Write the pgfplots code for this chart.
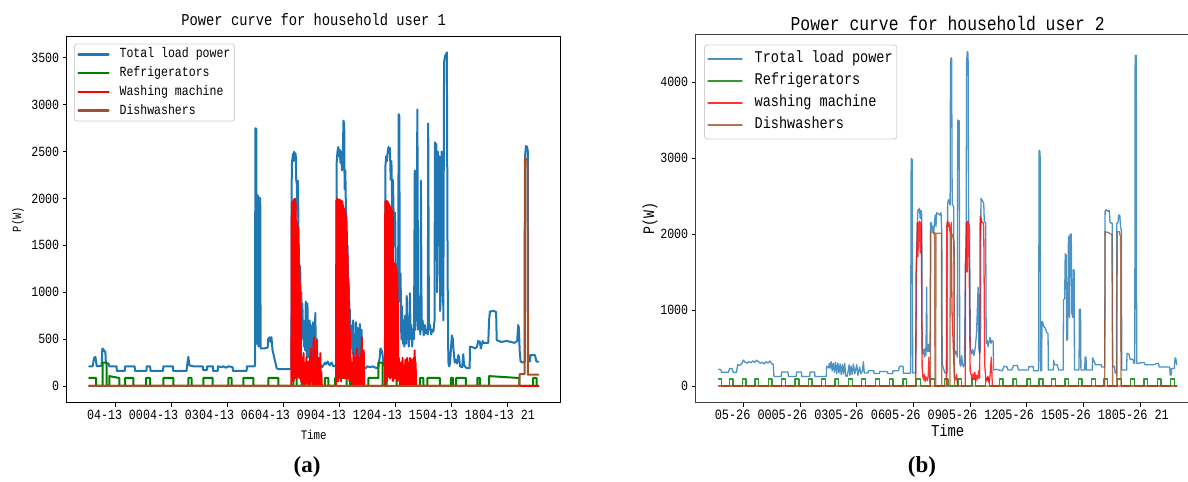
\documentclass[border=0pt]{standalone}
\usepackage{fontspec}
\newfontfamily\cf{Liberation Mono}[FakeStretch=0.83]
\newfontfamily\capfont{Liberation Serif}
\usepackage{pgfplots}
\pgfplotsset{compat=1.18}
\definecolor{tabblue}{HTML}{1F77B4}
\definecolor{mgreen}{HTML}{008000}
\definecolor{mred}{HTML}{FF0000}
\definecolor{sienna}{HTML}{A0522D}
\pgfplotsset{
  base/.style={
    scale only axis, anchor=south west,
    tick align=outside, tick pos=left, major tick length=4bp,
    axis line style={line width=1bp},
    every tick/.style={black, line width=0.9bp},
    /pgf/number format/assume math mode=true,
    /pgf/number format/1000 sep={},
    scaled y ticks=false,
    xtick={0,3,...,21},
    legend cell align=left,
    every axis plot/.append style={line join=round, line cap=round, mark=none},
  }
}
\begin{document}
\begin{tikzpicture}
\path[use as bounding box] (0bp,0bp) rectangle (1188bp,482bp);
% ---------------- (a) ----------------
\begin{axis}[base,
  at={(66.7bp,79.4bp)}, width=494bp, height=366bp,
  xmin=-2.59, xmax=23.88, ymin=-177.5, ymax=3727.5,
  ytick={0,500,...,3500},
  xticklabels={04-13 00,04-13 03,04-13 06,04-13 09,04-13 12,04-13 15,04-13 18,04-13 21},
  ticklabel style={font=\cf\fontsize{14bp}{16bp}\selectfont},
  title={Power curve for household user 1},
  title style={at={(0.5,1.0464)}, anchor=center, yshift=-6pt, font=\cf\fontsize{16.6bp}{18bp}\selectfont},
  xlabel={Time},
  xlabel style={at={(0.5,-0.0874)}, anchor=center, font=\cf\fontsize{13bp}{15bp}\selectfont},
  ylabel={P(W)},
  ylabel style={at={(-0.0986,0.5)}, anchor=center, font=\cf\fontsize{12.5bp}{14bp}\selectfont},
  legend style={at={(0.0148,0.981)}, anchor=north west,
    draw=black!18, line width=0.8bp, rounded corners=2.5bp, fill=white,
    font=\cf\fontsize{13.9bp}{16bp}\selectfont,
    inner xsep=3bp, inner ysep=4bp, row sep=5.7bp,
    nodes={inner xsep=1bp, inner ysep=0bp, text height=10bp, text depth=3bp},
    /tikz/every odd column/.append style={column sep=9bp}},
  legend image code/.code={\draw[#1, line width=2.2bp] (0bp,0bp) -- (30bp,0bp);},
]
\addplot[tabblue, line width=2bp] coordinates {
(-1.39,210) (-1.20,210) (-1.12,300) (-1.05,310) (-0.98,210) (-0.72,215) (-0.68,400) (-0.62,390) (-0.58,370) (-0.52,370) (-0.49,240) (-0.35,240) (-0.30,210) (0.08,210) (0.10,160) (0.52,160) (0.54,210) (1.05,210) (1.07,160) (1.68,160) (1.70,210) (1.88,210) (1.90,160) (2.57,160) (2.59,210) (3.10,210) (3.12,160) (3.83,160) (3.88,250) (3.93,310) (3.98,220) (4.20,210) (4.70,210) (4.72,170) (4.92,170) (4.94,210) (5.24,210) (5.26,160) (5.50,160) (5.52,210) (5.70,200) (5.80,210) (5.95,195) (6.10,210) (6.30,200) (6.32,160) (7.05,160) (7.07,210) (7.48,210)
(7.50,230) (7.52,2750) (7.57,2740) (7.59,450) (7.62,2040) (7.66,2020) (7.68,420) (7.72,2010) (7.78,2000) (7.80,400) (8.00,400) (8.18,410) (8.20,500) (8.28,520) (8.32,470) (8.38,520) (8.44,380) (8.50,330) (8.58,260) (8.66,190) (8.75,180) (9.45,180)
(9.47,2350) (9.50,2420) (9.54,2480) (9.57,2400) (9.60,2500) (9.64,2430) (9.68,2480) (9.71,2200) (9.74,2150) (9.77,1800) (9.80,2190) (9.83,1700) (9.86,1300) (9.89,1100) (9.92,1280) (9.95,800) (9.98,1000) (10.01,600) (10.04,880) (10.07,500) (10.10,700) (10.13,420) (10.16,600) (10.19,380) (10.22,900) (10.25,500) (10.28,300) (10.31,880) (10.34,450) (10.37,600) (10.40,300) (10.43,700) (10.46,420) (10.49,650) (10.52,350) (10.55,500) (10.58,300) (10.61,680) (10.64,380) (10.67,600) (10.70,250) (10.73,780) (10.76,400) (10.79,250) (10.82,500) (10.85,240) (10.90,250) (10.95,220)
(11.00,230) (11.10,200) (11.25,250) (11.30,230) (11.40,260) (11.50,220) (11.60,250) (11.70,210) (11.86,220)
(11.88,2400) (11.92,2500) (11.96,2550) (12.00,2450) (12.04,2520) (12.08,2380) (12.12,2500) (12.16,2300) (12.20,2420) (12.24,2830) (12.28,2800) (12.30,2100) (12.34,2300) (12.37,1900) (12.40,1800) (12.43,1300) (12.46,1500) (12.49,900) (12.52,1100) (12.55,700) (12.58,820) (12.61,500) (12.64,650) (12.67,400) (12.70,620) (12.73,350) (12.76,700) (12.79,450) (12.82,300) (12.85,550) (12.88,300) (12.91,680) (12.94,400) (12.97,250) (13.00,620) (13.03,300) (13.06,500) (13.09,230) (13.12,660) (13.15,350) (13.18,250) (13.21,600) (13.24,280) (13.30,200)
(13.45,190) (13.50,210) (13.70,200) (13.80,210) (14.00,190) (14.10,200) (14.18,300) (14.22,400) (14.28,380) (14.32,350) (14.40,220) (14.47,230)
(14.49,2350) (14.53,2450) (14.57,2400) (14.61,2500) (14.65,2550) (14.69,2480) (14.73,2540) (14.77,2200) (14.81,2400) (14.85,1900) (14.89,2200) (14.93,1800) (14.97,1500) (15.01,1850) (15.05,1000) (15.09,1300) (15.13,600) (15.17,1200) (15.20,2900) (15.23,2880) (15.26,900) (15.30,1200) (15.34,500) (15.38,850) (15.42,450) (15.46,700) (15.50,420) (15.55,750) (15.60,450) (15.63,960) (15.66,500) (15.70,700) (15.74,420) (15.80,990) (15.84,500) (15.88,650) (15.92,420) (15.96,600) (16.02,500) (16.06,2300) (16.09,600) (16.14,800) (16.20,2950) (16.24,600) (16.30,750) (16.36,550) (16.39,2190) (16.43,600) (16.48,700) (16.54,540) (16.60,650) (16.66,560) (16.72,600) (16.76,550) (16.78,2800) (16.82,600) (16.88,650) (16.94,550) (17.00,600) (17.06,580) (17.12,700) (17.14,2600) (17.18,2550) (17.22,2580) (17.26,1000) (17.30,2500) (17.34,1500) (17.38,2450) (17.42,800) (17.46,1000) (17.50,2500) (17.55,2480) (17.59,700) (17.63,3450) (17.68,3520) (17.74,3540) (17.78,3560) (17.82,1200) (17.86,250)
(17.90,210) (17.95,230) (18.00,400) (18.05,540) (18.10,500) (18.14,380) (18.20,250) (18.26,280) (18.32,240) (18.40,330) (18.44,300) (18.48,210) (18.60,200) (18.66,340) (18.70,220) (18.84,190) (19.00,190) (19.02,420) (19.20,410) (19.30,400) (19.40,420) (19.46,480) (19.55,470) (19.60,400) (19.70,480) (19.73,460) (20.00,460) (20.04,700) (20.09,795) (20.30,800) (20.42,790) (20.45,490) (20.55,480) (20.70,470) (21.00,480) (21.20,470) (21.40,460) (21.55,480) (21.60,650) (21.64,620) (21.68,380) (21.73,260) (21.85,250) (21.96,260) (21.97,2450) (22.02,2560) (22.08,2550) (22.12,2500) (22.14,270) (22.23,260) (22.26,330) (22.50,330) (22.58,260) (22.68,260)
};
\addplot[mgreen, line width=2bp] coordinates {
(-1.39,85) (-1.02,85) (-1.02,0) (-0.66,0) (-0.66,250) (-0.45,250) (-0.45,0) (-0.31,0) (-0.31,105) (0.23,85) (0.23,0) (0.54,0) (0.54,85) (0.98,85) (0.98,0) (1.66,0) (1.66,85) (1.88,85) (1.88,0) (2.59,0) (2.59,85) (3.12,85) (3.12,0) (3.93,0) (3.93,85) (4.11,85) (4.11,0) (4.73,0) (4.73,85) (5.23,85) (5.23,0) (6.07,0) (6.07,85) (6.25,85) (6.25,0) (6.87,0) (6.87,85) (7.41,85) (7.41,0) (8.21,0) (8.21,85) (8.75,85) (8.75,0) (9.55,0) (9.55,85) (9.73,85) (9.73,0) (10.00,0) (10.00,85) (10.18,85) (10.18,0) (10.45,0) (10.45,85) (10.62,85) (10.62,0) (11.25,0) (11.25,85) (11.43,85) (11.43,0) (11.79,0) (11.79,85) (12.41,85) (12.41,0) (12.59,0) (12.59,85) (13.13,85) (13.13,0) (13.57,0) (13.57,85) (14.11,85) (14.11,250) (14.34,250) (14.34,0) (14.55,0) (14.55,105) (15.09,85) (15.09,0) (15.27,0) (15.27,85) (15.48,85) (15.48,0) (16.34,0) (16.34,85) (16.52,85) (16.52,0) (16.73,0) (16.73,85) (17.41,85) (17.41,0) (18.00,0) (18.00,85) (18.12,85) (18.12,0) (18.27,0) (18.27,85) (18.80,85) (18.80,0) (19.41,0) (19.41,85) (19.55,85) (19.55,0) (20.05,0) (20.05,105) (21.66,85) (21.66,0) (22.40,0) (22.40,85) (22.59,85) (22.59,0) (22.68,0)
};
\addplot[mred, line width=2bp] coordinates {
(-1.39,0) (9.45,0) (9.47,1950) (9.49,100) (9.51,1970) (9.53,200) (9.55,1960) (9.57,50) (9.59,1990) (9.61,150) (9.63,2000) (9.65,100) (9.67,1950) (9.69,200) (9.71,1780) (9.73,80) (9.75,1750) (9.77,150) (9.79,1700) (9.81,100) (9.83,1500) (9.85,200) (9.87,1300) (9.89,80) (9.91,1100) (9.93,150) (9.95,850) (9.97,50)
(10.00,300) (10.025,60) (10.05,220) (10.075,20) (10.10,350) (10.125,100) (10.15,250) (10.175,0) (10.20,180) (10.225,60) (10.25,300) (10.275,30) (10.30,200) (10.325,0) (10.35,260) (10.375,80) (10.40,150) (10.425,0) (10.45,320) (10.475,50) (10.50,400) (10.525,100) (10.55,250) (10.575,0) (10.60,300) (10.625,60) (10.65,520) (10.675,40) (10.70,350) (10.725,0) (10.75,200) (10.775,30) (10.80,480) (10.825,0) (10.85,250) (10.875,0) (10.90,300) (10.925,50) (10.95,200) (10.975,0) (11.00,350) (11.025,0) (11.05,150) (11.08,0) (11.84,0)
(11.86,1980) (11.88,100) (11.90,2000) (11.92,150) (11.94,1990) (11.96,50) (11.98,1970) (12.00,200) (12.02,1990) (12.04,100) (12.06,1960) (12.08,150) (12.10,1980) (12.12,50) (12.14,1950) (12.16,200) (12.18,1970) (12.20,100) (12.22,1930) (12.24,150) (12.26,1900) (12.28,80) (12.30,1880) (12.32,200) (12.34,1850) (12.36,100) (12.38,1800) (12.40,150) (12.42,1650) (12.44,80) (12.46,1400) (12.48,200) (12.50,1150) (12.52,100) (12.54,900) (12.56,50) (12.58,600) (12.60,150)
(12.625,300) (12.65,50) (12.675,250) (12.70,0) (12.725,200) (12.75,80) (12.775,350) (12.80,0) (12.825,180) (12.85,60) (12.875,300) (12.90,0) (12.925,220) (12.95,100) (12.975,400) (13.00,20) (13.025,250) (13.05,0) (13.075,300) (13.10,80) (13.125,200) (13.15,0) (13.175,350) (13.20,50) (13.225,520) (13.25,0) (13.275,250) (13.30,30) (13.325,380) (13.35,0) (13.39,0) (14.44,0)
(14.46,0) (14.48,1970) (14.50,100) (14.52,1980) (14.54,150) (14.56,1960) (14.58,50) (14.60,1970) (14.62,200) (14.64,1950) (14.66,100) (14.68,1940) (14.70,150) (14.72,1920) (14.74,80) (14.76,1900) (14.78,200) (14.80,1900) (14.82,100) (14.84,1880) (14.86,150) (14.88,1850) (14.90,50) (14.92,1300) (14.94,150) (14.96,1310) (14.98,80) (15.00,1300) (15.02,200) (15.04,1280) (15.06,100) (15.08,1250) (15.10,50) (15.12,1200) (15.14,150) (15.16,900) (15.18,80)
(15.205,300) (15.23,50) (15.255,200) (15.28,0) (15.305,250) (15.33,80) (15.355,180) (15.38,0) (15.405,300) (15.43,60) (15.455,220) (15.48,0) (15.505,150) (15.53,30) (15.555,280) (15.58,0) (15.605,200) (15.63,100) (15.655,300) (15.68,0) (15.705,180) (15.73,50) (15.755,250) (15.78,0) (15.805,300) (15.83,80) (15.855,200) (15.88,0) (15.905,280) (15.93,30) (15.955,220) (15.98,0) (16.005,300) (16.03,50) (16.055,380) (16.08,0) (16.105,250) (16.13,0) (16.16,0) (22.68,0)
};
\addplot[sienna, line width=2bp] coordinates {
(-1.39,0) (21.66,0) (21.68,125) (21.94,125) (21.96,2420) (22.10,2420) (22.12,120) (22.68,120)
};
\legend{Total load power, Refrigerators, Washing machine, Dishwashers}
\end{axis}
% ---------------- (b) ----------------
\begin{axis}[base,
  at={(695.7bp,79.3bp)}, width=503.9bp, height=367.8bp,
  xmin=-2.52, xmax=24.14, ymin=-220, ymax=4620,
  axis line style={line width=1.1bp, black!75},
  ytick={0,1000,...,4000},
  xticklabels={05-26 00,05-26 03,05-26 06,05-26 09,05-26 12,05-26 15,05-26 18,05-26 21},
  xticklabel style={font=\cf\fontsize{14.3bp}{16bp}\selectfont},
  yticklabel style={font=\cf\fontsize{14bp}{16bp}\selectfont},
  title={Power curve for household user 2},
  title style={at={(0.5,1.031)}, anchor=center, yshift=-6pt, font=\cf\fontsize{19.7bp}{21bp}\selectfont},
  xlabel={Time},
  xlabel style={at={(0.5,-0.077)}, anchor=center, font=\cf\fontsize{16.7bp}{18bp}\selectfont},
  ylabel={P(W)},
  ylabel style={at={(-0.0907,0.5)}, anchor=center, font=\cf\fontsize{16bp}{18bp}\selectfont},
  legend style={at={(0.0165,0.9736)}, anchor=north west,
    draw=black!18, line width=0.8bp, rounded corners=2.5bp, fill=white,
    font=\cf\fontsize{16.3bp}{18bp}\selectfont,
    inner xsep=3bp, inner ysep=6.5bp, row sep=7bp,
    nodes={inner xsep=1bp, inner ysep=0bp, text height=11bp, text depth=4bp},
    /tikz/every odd column/.append style={column sep=11bp}},
  legend image code/.code={\draw[#1] (0bp,0bp) -- (34bp,0bp);},
]
\addplot[tabblue, line width=1.3bp, draw opacity=0.8] coordinates {
(-1.31,220) (-1.20,215) (-1.14,180) (-0.80,180) (-0.72,230) (-0.60,230) (-0.53,180) (-0.36,180) (-0.30,280) (-0.20,270) (-0.10,290) (0.00,340) (0.10,310) (0.20,300) (0.30,320) (0.40,305) (0.50,330) (0.60,310) (0.70,340) (0.80,320) (0.90,300) (1.00,310) (1.10,290) (1.20,320) (1.30,300) (1.40,330) (1.50,290) (1.58,290) (1.62,125) (2.00,125) (2.03,185) (2.36,185) (2.38,125) (2.80,125) (2.82,185) (3.07,185) (3.09,125) (3.51,125) (3.53,185) (3.77,185) (3.79,125) (4.39,125) (4.41,260) (4.50,240) (4.56,300) (4.60,230) (4.65,320) (4.70,200) (4.76,300) (4.82,180) (4.88,310) (4.94,160) (5.00,300) (5.06,170) (5.12,290) (5.18,150) (5.24,280) (5.30,160) (5.36,300) (5.42,130)
(5.50,130) (5.60,280) (5.64,140) (5.70,260) (5.76,150) (5.82,290) (5.90,160) (6.00,280) (6.06,140) (6.15,250) (6.22,160) (6.30,200) (6.35,320) (6.40,170) (6.60,170) (6.62,200) (6.90,200) (6.92,165) (7.20,165) (7.22,190) (7.60,190) (7.65,165) (7.90,165) (7.92,200) (8.20,200) (8.27,260) (8.45,260) (8.47,165) (8.85,170) (8.88,2990) (8.93,2980) (8.96,170) (9.12,170)
(9.16,1600) (9.20,2100) (9.24,2320) (9.28,2300) (9.32,2340) (9.36,2200) (9.40,2310) (9.44,2250) (9.46,500) (9.50,420) (9.54,480) (9.58,380) (9.62,500) (9.66,400) (9.70,1300) (9.72,500) (9.76,450) (9.80,550) (9.84,450) (9.88,520) (9.91,2150) (9.95,2150) (9.99,2050) (10.03,2100) (10.07,2000) (10.11,2150) (10.15,2250) (10.19,2100) (10.23,2280) (10.30,2270) (10.38,2250) (10.46,2280) (10.50,2000) (10.52,300) (10.60,220) (10.67,170) (10.78,170)
(10.81,2400) (10.85,2450) (10.90,2420) (10.94,2380) (10.96,4250) (10.99,4320) (11.02,4300) (11.05,2400) (11.09,2380) (11.13,2350) (11.16,500) (11.22,420) (11.28,450) (11.32,380) (11.34,3500) (11.38,3480) (11.42,3490) (11.45,300) (11.50,260) (11.55,400) (11.60,280) (11.65,250) (11.70,300) (11.75,1650) (11.79,1700) (11.81,4250) (11.85,4400) (11.89,4380) (11.92,2150) (11.97,2100) (12.01,500) (12.08,420) (12.14,480) (12.20,400) (12.27,500) (12.34,700) (12.42,1300) (12.46,500) (12.50,420) (12.55,480) (12.57,2470) (12.62,2450) (12.67,2430) (12.72,2400) (12.75,2150) (12.82,2150) (12.85,560) (12.90,600) (12.95,520) (13.00,580) (13.05,640) (13.10,560) (13.15,600) (13.22,580) (13.24,210)
(13.40,220) (13.50,210) (13.70,200) (13.80,260) (13.95,250) (14.00,210) (14.20,210) (14.30,270) (14.50,270) (14.55,210) (14.90,210) (15.08,210) (15.10,255) (15.34,255) (15.36,200) (15.62,200) (15.65,3100) (15.70,3080) (15.73,200) (15.78,200) (15.80,850) (15.85,830) (15.90,780) (15.98,760) (16.05,700) (16.12,690) (16.14,210) (16.40,210) (16.42,340) (16.46,280) (16.60,280) (16.68,210) (16.92,210) (16.94,1130) (17.00,1150) (17.03,1740) (17.08,1720) (17.11,600) (17.16,620) (17.20,1950) (17.24,1970) (17.26,900) (17.29,1990) (17.35,2000) (17.38,960) (17.42,900) (17.46,1530) (17.50,1520) (17.52,210) (17.76,210) (17.78,1010) (17.84,1010) (17.86,210) (18.06,210) (18.08,380) (18.13,380) (18.15,210) (18.46,210) (18.48,370) (18.60,300) (18.62,280) (18.94,280) (18.96,250) (19.12,250) (19.14,2300) (19.20,2320) (19.28,2300) (19.36,2310) (19.40,2150) (19.52,2140) (19.54,250) (19.62,260) (19.67,170) (19.74,170) (19.76,2140) (19.82,2150) (19.86,2250) (19.92,2240) (19.96,2080) (20.00,2060) (20.02,210) (20.28,210) (20.30,430) (20.40,420) (20.46,350) (20.62,350) (20.66,300) (20.71,300) (20.73,4350) (20.79,4350) (20.81,300) (20.90,300) (21.20,310) (21.25,280) (21.60,280) (21.70,280) (21.96,300) (22.00,250) (22.22,250) (22.56,250) (22.58,145) (22.64,145) (22.66,230) (22.80,230) (22.84,370) (22.88,360) (22.93,280)
};
\addplot[mgreen, line width=1.3bp, draw opacity=0.8] coordinates {
(-1.31,90) (-1.14,90) (-1.14,0) (-0.74,0) (-0.74,90) (-0.54,90) (-0.54,0) (-0.06,0) (-0.06,90) (0.14,90) (0.14,0) (0.62,0) (0.62,90) (0.82,90) (0.82,0) (1.32,0) (1.32,90) (1.52,90) (1.52,0) (2.03,0) (2.03,90) (2.23,90) (2.23,0) (2.74,0) (2.74,90) (2.94,90) (2.94,0) (3.44,0) (3.44,90) (3.64,90) (3.64,0) (4.15,0) (4.15,90) (4.35,90) (4.35,0) (4.85,0) (4.85,90) (5.05,90) (5.05,0) (5.56,0) (5.56,90) (5.76,90) (5.76,0) (6.26,0) (6.26,90) (6.46,90) (6.46,0) (6.99,0) (6.99,90) (7.19,90) (7.19,0) (7.72,0) (7.72,90) (7.92,90) (7.92,0) (8.45,0) (8.45,90) (8.65,90) (8.65,0) (9.17,0) (9.17,90) (9.37,90) (9.37,0) (9.90,0) (9.90,90) (10.10,90) (10.10,0) (10.63,0) (10.63,90) (10.83,90) (10.83,0) (11.36,0) (11.36,90) (11.56,90) (11.56,0) (12.09,0) (12.09,90) (12.29,90) (12.29,0) (12.81,0) (12.81,90) (13.01,90) (13.01,0) (13.54,0) (13.54,90) (13.74,90) (13.74,0) (14.27,0) (14.27,90) (14.47,90) (14.47,0) (15.00,0) (15.00,90) (15.20,90) (15.20,0) (15.65,0) (15.65,90) (15.85,90) (15.85,0) (16.31,0) (16.31,90) (16.51,90) (16.51,0) (17.02,0) (17.02,90) (17.22,90) (17.22,0) (17.72,0) (17.72,90) (17.92,90) (17.92,0) (18.43,0) (18.43,90) (18.63,90) (18.63,0) (19.08,0) (19.08,90) (19.28,90) (19.28,0) (19.79,0) (19.79,90) (19.99,90) (19.99,0) (20.49,0) (20.49,90) (20.69,90) (20.69,0) (21.20,0) (21.20,90) (21.40,90) (21.40,0) (21.90,0) (21.90,90) (22.10,90) (22.10,0) (22.61,0) (22.61,90) (22.81,90) (22.81,0) (22.93,0)
};
\addplot[mred, line width=1.3bp, draw opacity=0.8] coordinates {
(-1.31,0) (9.12,0) (9.14,1500) (9.18,1800) (9.21,2150) (9.24,1700) (9.27,2150) (9.30,1900) (9.33,2170) (9.36,1750) (9.39,2150) (9.42,2100) (9.44,1000) (9.46,250) (9.50,120) (9.54,80) (9.58,150) (9.62,60) (9.66,120) (9.70,100) (9.74,70) (9.78,130) (9.82,380) (9.86,100) (9.88,0) (10.74,0) (10.76,2100) (10.80,2170) (10.84,2100) (10.88,2150) (10.92,2050) (10.96,2000) (11.00,2150) (11.04,1000) (11.08,700) (11.12,450) (11.16,120) (11.22,80) (11.28,150) (11.34,0) (11.74,0) (11.76,1600) (11.80,2150) (11.84,1500) (11.88,2170) (11.92,2100) (11.96,1300) (12.00,200) (12.05,150) (12.10,80) (12.15,160) (12.20,100) (12.25,180) (12.30,60) (12.35,140) (12.40,90) (12.45,200) (12.50,100) (12.53,2230) (12.57,2200) (12.62,2150) (12.68,2150) (12.72,2100) (12.77,280) (12.82,120) (12.88,60) (12.94,130) (13.00,40) (13.06,150) (13.12,380) (13.16,100) (13.18,0) (22.93,0)
};
\addplot[sienna, line width=1.3bp, draw opacity=0.8] coordinates {
(-1.31,0) (9.90,0) (9.91,2030) (10.12,2020) (10.14,0) (10.18,0) (10.19,2010) (10.48,2010) (10.50,0) (10.93,0) (10.95,2000) (11.05,2000) (11.10,1950) (11.15,1900) (11.17,0) (19.12,0) (19.14,2030) (19.30,2020) (19.45,2000) (19.50,1990) (19.54,0) (19.76,0) (19.78,2030) (19.90,2030) (19.93,1980) (19.96,1980) (19.98,0) (22.93,0)
};
\legend{Trotal load power, Refrigerators, washing machine, Dishwashers}
\end{axis}
\node[font=\capfont\fontsize{23bp}{24bp}\selectfont\bfseries] at (307bp,15bp) {(a)};
\node[font=\capfont\fontsize{23bp}{24bp}\selectfont\bfseries] at (922bp,15bp) {(b)};
\end{tikzpicture}
\end{document}
